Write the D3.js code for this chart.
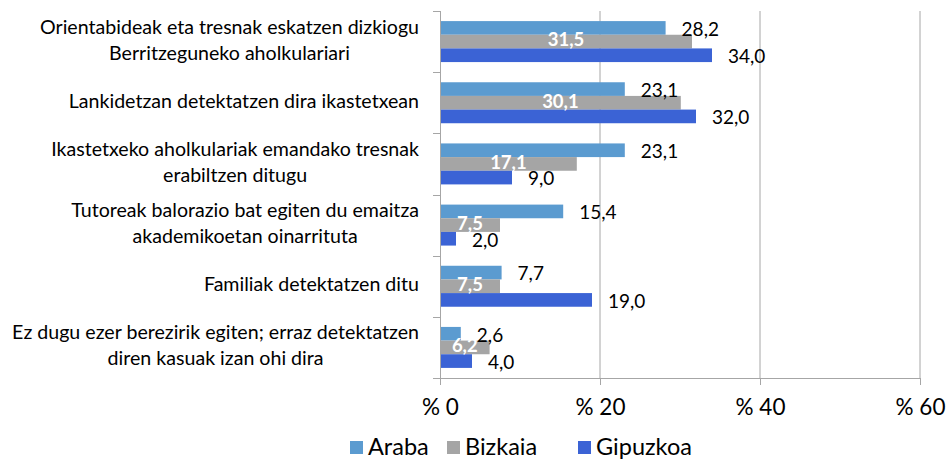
<!DOCTYPE html>
<html><head><meta charset="utf-8">
<script src="https://cdn.jsdelivr.net/npm/d3@7/dist/d3.min.js"></script>
<style>
html,body{margin:0;padding:0;background:#fff;}
svg{display:block;font-family:Lato,"Open Sans",sans-serif;}
</style></head>
<body>
<svg id="chart" width="947" height="462"></svg>
<script>
const categories = [
  ["Orientabideak eta tresnak eskatzen dizkiogu","Berritzeguneko aholkulariari"],
  ["Lankidetzan detektatzen dira ikastetxean"],
  ["Ikastetxeko aholkulariak emandako tresnak","erabiltzen ditugu"],
  ["Tutoreak balorazio bat egiten du emaitza","akademikoetan oinarrituta"],
  ["Familiak detektatzen ditu"],
  ["Ez dugu ezer berezirik egiten; erraz detektatzen","diren kasuak izan ohi dira"]
];
const seriesNames = ["Araba","Bizkaia","Gipuzkoa"];
const araba = [28.2, 23.1, 23.1, 15.4, 7.7, 2.6];
const bizkaia = [31.5, 30.1, 17.1, 7.5, 7.5, 6.2];
const gipuzkoa = [34.0, 32.0, 9.0, 2.0, 19.0, 4.0];
const xTicks = [0, 20, 40, 60];
const colors = ["#5b9bd0","#a5a5a5","#3b63d5"];

const svg = d3.select("#chart");
const catIdx = categories.map((d,i)=>i);
const x = d3.scaleLinear().domain([0,60]).range([440,920]);
const y = d3.scaleBand().domain(catIdx).range([11,378]).paddingInner(0.33).paddingOuter(0.165);
const ys = d3.scaleBand().domain(seriesNames).range([0,y.bandwidth()]);
const gridC = "#a6a6a6";

// gridlines
svg.append("g").selectAll("line").data(xTicks.slice(1)).join("line")
  .attr("x1",d=>x(d)).attr("x2",d=>x(d)).attr("y1",11).attr("y2",378)
  .attr("stroke",gridC).attr("stroke-width",1);

// x axis
const xAxis = d3.axisBottom(x).tickValues(xTicks).tickSize(7).tickFormat(d=>"% "+d).tickPadding(14);
const gx = svg.append("g").attr("transform","translate(0,378)").call(xAxis);
gx.select(".domain").attr("d","M433,0.5H920").attr("stroke",gridC);
gx.selectAll(".tick line").attr("stroke",gridC);
gx.selectAll(".tick text").attr("font-size",22.5).attr("fill","#000").attr("font-family","Lato,'Open Sans',sans-serif");

// y axis line + category boundary ticks
svg.append("line").attr("x1",440.5).attr("x2",440.5).attr("y1",11).attr("y2",378).attr("stroke",gridC);
const bounds = catIdx.map(i=>y(i)-y.step()*y.paddingInner()/2).concat([378]);
svg.append("g").selectAll("line").data(bounds).join("line")
  .attr("x1",433).attr("x2",440).attr("y1",d=>Math.round(d)+0.5).attr("y2",d=>Math.round(d)+0.5)
  .attr("stroke",gridC);

// bars
const all = [araba,bizkaia,gipuzkoa];
all.forEach((vals,s)=>{
  svg.append("g").selectAll("rect").data(vals).join("rect")
    .attr("x",x(0)+1).attr("y",(d,i)=>y(i)+ys(seriesNames[s]))
    .attr("width",d=>x(d)-x(0)-1).attr("height",ys.bandwidth())
    .attr("fill",colors[s]);
});

const fmt = v=>v.toFixed(1).replace(".",",");
// labels Araba, Gipuzkoa (outside right)
[0,2].forEach(s=>{
  svg.append("g").selectAll("text").data(all[s]).join("text")
    .attr("x",d=>x(d)+16).attr("y",(d,i)=>y(i)+ys(seriesNames[s])+ys.bandwidth()/2+3)
    .attr("dominant-baseline","middle").attr("font-size",19).attr("fill","#000")
    .text(d=>fmt(d));
});
// Bizkaia inside center, white bold
svg.append("g").selectAll("text").data(bizkaia).join("text")
  .attr("x",d=>x(d/2)).attr("y",(d,i)=>y(i)+ys("Bizkaia")+ys.bandwidth()/2)
  .attr("text-anchor","middle").attr("dominant-baseline","middle")
  .attr("font-size",18.5).attr("font-weight","bold").attr("fill","#fff")
  .text(d=>fmt(d));

// category labels
const lab = svg.append("g");
categories.forEach((lines,i)=>{
  const cy = y(i)+y.bandwidth()/2;
  const lh = 26;
  const g = lab.append("g");
  const ts = lines.map((t,k)=>g.append("text").attr("font-size",19.6).attr("fill","#000")
     .attr("text-anchor","middle").attr("dominant-baseline","middle")
     .attr("y",cy+(k-(lines.length-1)/2)*lh).text(t));
  const maxW = d3.max(ts,t=>t.node().getComputedTextLength());
  ts.forEach(t=>t.attr("x",419-maxW/2));
});

// legend
const leg = [{n:"Araba",x:350},{n:"Bizkaia",x:447},{n:"Gipuzkoa",x:578}];
const lg = svg.append("g");
leg.forEach((l,i)=>{
  lg.append("rect").attr("x",l.x).attr("y",441).attr("width",13).attr("height",13).attr("fill",colors[i]);
  lg.append("text").attr("x",l.x+18).attr("y",449).attr("dominant-baseline","middle")
    .attr("font-size",23.5).attr("fill","#000").text(l.n);
});
</script>
</body></html>
